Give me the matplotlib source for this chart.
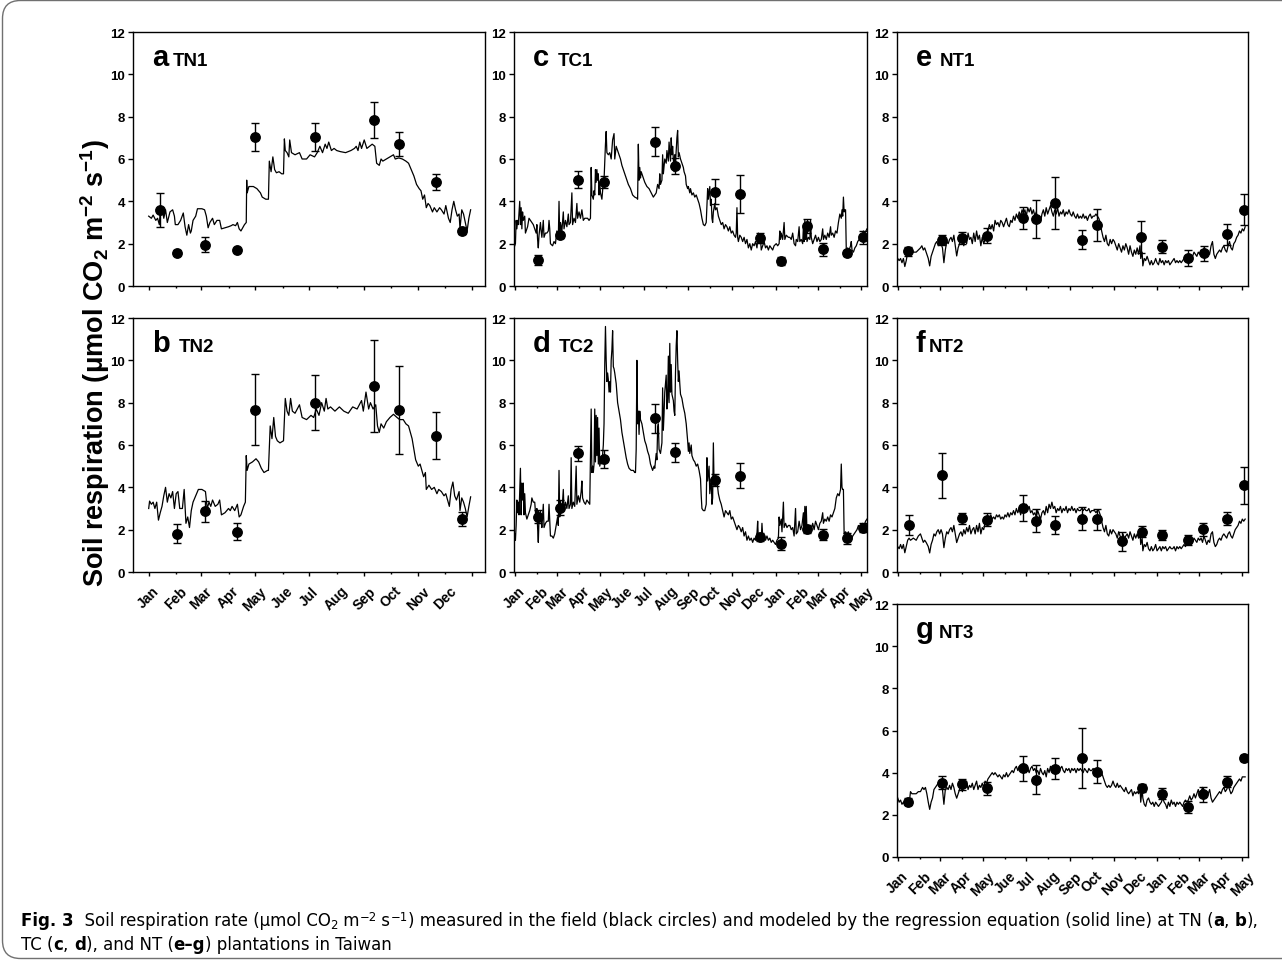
import matplotlib
matplotlib.use("Agg")
import matplotlib.pyplot as plt
from matplotlib.patches import FancyBboxPatch
from matplotlib.transforms import IdentityTransform, ScaledTranslation

plt.rcParams['font.family'] = ['Liberation Sans', 'DejaVu Sans']
plt.rcParams['mathtext.fontset'] = 'custom'
plt.rcParams['mathtext.rm'] = 'Liberation Sans'
plt.rcParams['mathtext.bf'] = 'Liberation Sans:bold'
plt.rcParams['mathtext.sf'] = 'Liberation Sans:bold'

# month ticks (days since Jan 1)
months_1yr = ['Jan', 'Feb', 'Mar', 'Apr', 'May', 'Jue', 'Jul', 'Aug', 'Sep', 'Oct', 'Nov', 'Dec', '']
month_days_1yr = [0, 31, 59, 90, 120, 151, 181, 212, 243, 273, 304, 334, 365]
months_17 = ['Jan', 'Feb', 'Mar', 'Apr', 'May', 'Jue', 'Jul', 'Aug', 'Sep', 'Oct', 'Nov', 'Dec',
             'Jan', 'Feb', 'Mar', 'Apr', 'May']
month_days_17 = [0, 31, 59, 90, 120, 151, 181, 212, 243, 273, 304, 334, 365, 396, 424, 455, 485]

# ---------------- measured (field) ----------------
tn1_days = [13, 32, 64, 100, 120, 188, 254, 282, 324, 353]
tn1_mean = [3.6, 1.58, 1.96, 1.69, 7.04, 7.04, 7.83, 6.71, 4.91, 2.59]
tn1_err = [0.8, 0.12, 0.35, 0.08, 0.68, 0.68, 0.85, 0.58, 0.37, 0.12]

tn2_days = [32, 64, 100, 120, 188, 254, 282, 324, 353]
tn2_mean = [1.81, 2.87, 1.91, 7.67, 8.0, 8.79, 7.67, 6.44, 2.49]
tn2_err = [0.46, 0.5, 0.4, 1.67, 1.3, 2.17, 2.08, 1.1, 0.34]

tc_days = [32, 63, 89, 125, 197, 224, 280, 315, 343, 373, 409, 431, 465, 488]
tc1_mean = [1.23, 2.41, 5.03, 4.91, 6.81, 5.67, 4.46, 4.35, 2.26, 1.19, 2.85, 1.74, 1.55, 2.3]
tc1_err = [0.25, 0.15, 0.4, 0.3, 0.68, 0.4, 0.6, 0.9, 0.25, 0.2, 0.33, 0.3, 0.15, 0.3]
tc2_mean = [2.62, 3.03, 5.61, 5.33, 7.26, 5.65, 4.34, 4.54, 1.66, 1.34, 2.02, 1.77, 1.59, 2.1]
tc2_err = [0.3, 0.35, 0.35, 0.43, 0.67, 0.44, 0.3, 0.59, 0.2, 0.3, 0.2, 0.25, 0.25, 0.2]

nt1_days = [15, 62, 90, 125, 176, 195, 222, 259, 280, 343, 372, 409, 431, 464, 487]
nt1_mean = [1.63, 2.18, 2.25, 2.37, 3.21, 3.15, 3.91, 2.18, 2.88, 2.3, 1.85, 1.33, 1.55, 2.44, 3.61]
nt1_err = [0.2, 0.25, 0.28, 0.35, 0.5, 0.9, 1.23, 0.45, 0.75, 0.75, 0.3, 0.37, 0.35, 0.5, 0.75]

nt2_days = [16, 63, 90, 125, 176, 195, 222, 259, 280, 316, 344, 372, 409, 430, 464, 487]
nt2_mean = [2.22, 4.57, 2.54, 2.48, 3.01, 2.43, 2.22, 2.52, 2.49, 1.45, 1.91, 1.75, 1.51, 2.02, 2.52, 4.1]
nt2_err = [0.45, 1.06, 0.25, 0.3, 0.62, 0.55, 0.43, 0.53, 0.5, 0.45, 0.25, 0.25, 0.25, 0.3, 0.3, 0.87]

nt3_days = [15, 63, 90, 125, 176, 195, 222, 259, 280, 344, 372, 409, 430, 464, 487]
nt3_mean = [2.63, 3.53, 3.45, 3.25, 4.2, 3.67, 4.18, 4.69, 4.04, 3.26, 3.0, 2.37, 2.98, 3.58, 4.69]
nt3_err = [0.15, 0.3, 0.25, 0.3, 0.6, 0.7, 0.5, 1.43, 0.55, 0.2, 0.25, 0.3, 0.35, 0.25, 0.15]

# ---------------- modeled (regression) ----------------
tn1_model = [(0, 3.3), (3, 3.2), (5, 3.35), (8, 3.1), (10, 3.2), (12, 2.9), (13, 3.5), (15, 3.7), (17, 3.2),
             (19, 3.6), (21, 3.0), (24, 3.5), (27, 3.6), (29, 3.3), (30, 2.9), (33, 2.9), (36, 3.1), (39, 3.45),
             (41, 2.8), (43, 2.4), (45, 2.9), (47, 2.5), (48, 2.6), (50, 3.1), (53, 3.3), (55, 3.65), (60, 3.65),
             (63, 3.6), (65, 3.3), (67, 2.75), (69, 3.0), (72, 3.2), (74, 2.9), (77, 3.1), (80, 3.1), (82, 2.7),
             (86, 2.75), (90, 2.8), (93, 2.85), (95, 2.9), (98, 2.85), (100, 3.0), (102, 2.7), (104, 2.6),
             (108, 2.9), (110, 3.0), (110.5, 5.0), (111, 4.4), (113, 4.7), (118, 4.7), (122, 4.6), (126, 4.4),
             (128, 4.2), (132, 4.1), (135, 4.1), (136, 5.9), (138, 5.4), (140, 6.1), (142, 5.5), (144, 5.35),
             (147, 5.4), (150, 5.3), (152, 5.3), (153, 6.95), (154, 6.4), (156, 6.3), (158, 6.1), (159, 6.9),
             (161, 6.3), (165, 6.2), (170, 6.3), (173, 6.0), (178, 6.0), (182, 6.2), (187, 6.1), (190, 6.3),
             (193, 6.6), (196, 6.3), (199, 6.7), (201, 6.5), (203, 6.8), (206, 6.4), (209, 6.5), (212, 6.4),
             (216, 6.35), (222, 6.3), (228, 6.4), (232, 6.5), (234, 6.6), (236, 6.4), (238, 6.8), (240, 6.5),
             (243, 6.9), (246, 6.5), (249, 6.6), (252, 6.7), (255, 6.6), (257, 5.8), (260, 5.7), (262, 6.0),
             (264, 5.9), (268, 6.0), (272, 6.1), (276, 6.2), (278, 6.0), (282, 6.05), (286, 6.0), (290, 5.9),
             (293, 5.8), (296, 5.5), (299, 5.2), (302, 4.8), (305, 4.6), (307, 4.5), (309, 4.1), (311, 4.3),
             (313, 3.7), (315, 3.9), (317, 3.8), (320, 3.5), (322, 3.7), (325, 3.5), (328, 3.7), (330, 3.6),
             (333, 3.4), (335, 3.8), (338, 3.2), (340, 3.0), (342, 3.6), (344, 4.0), (346, 3.6), (348, 3.3),
             (350, 3.4), (351, 2.7), (353, 3.6), (355, 3.4), (357, 3.0), (359, 2.6), (361, 3.2), (363, 3.6)]

tn2_model = [(0, 3.0), (1, 3.35), (3, 3.2), (5, 3.3), (7, 3.0), (9, 3.3), (11, 2.45), (13, 2.8), (15, 3.1),
             (17, 3.6), (19, 4.0), (21, 3.3), (23, 3.7), (25, 3.5), (27, 3.8), (29, 3.0), (31, 3.7), (33, 3.8),
             (35, 3.0), (38, 3.0), (40, 3.9), (42, 2.3), (44, 2.6), (46, 2.1), (48, 2.9), (50, 3.3), (53, 3.6),
             (56, 3.9), (60, 3.9), (64, 3.8), (66, 3.0), (68, 3.3), (70, 3.1), (72, 3.4), (75, 3.1), (78, 3.2),
             (80, 3.4), (82, 2.7), (86, 2.8), (90, 3.0), (92, 2.9), (94, 3.1), (97, 2.9), (100, 3.2), (102, 2.6),
             (104, 2.7), (107, 3.1), (109, 3.3), (110, 5.5), (111, 4.8), (113, 5.1), (117, 5.2), (121, 5.35),
             (124, 5.2), (127, 4.9), (130, 4.7), (134, 4.8), (135, 4.8), (137, 6.9), (139, 6.3), (141, 7.3),
             (143, 6.4), (145, 6.2), (148, 6.1), (152, 6.2), (154, 8.2), (156, 7.6), (158, 7.4), (160, 8.2),
             (162, 7.6), (165, 7.5), (170, 7.9), (173, 7.3), (178, 7.2), (183, 7.4), (186, 7.3), (189, 7.7),
             (192, 7.4), (195, 8.0), (198, 7.6), (200, 8.2), (202, 7.7), (205, 7.8), (210, 7.6), (215, 7.8),
             (220, 7.6), (225, 7.5), (230, 7.8), (235, 7.7), (240, 8.1), (242, 7.6), (245, 8.5), (248, 7.7),
             (250, 8.0), (253, 7.7), (256, 7.9), (258, 6.9), (260, 6.6), (262, 7.0), (265, 6.8), (268, 7.1),
             (272, 7.3), (276, 7.45), (280, 7.3), (283, 7.2), (287, 7.2), (290, 7.0), (293, 6.9), (295, 6.6),
             (297, 6.3), (299, 5.8), (301, 5.3), (304, 5.0), (306, 5.1), (308, 4.8), (310, 4.5), (312, 4.7),
             (313, 3.9), (316, 4.1), (319, 3.9), (322, 4.0), (325, 3.7), (327, 3.9), (330, 3.8), (333, 3.6),
             (335, 3.7), (337, 3.4), (339, 3.1), (341, 3.9), (343, 4.25), (345, 3.6), (347, 3.4), (350, 3.8),
             (351, 2.9), (353, 3.5), (355, 3.3), (357, 3.0), (359, 2.6), (361, 3.1), (363, 3.55)]

tc1_model = [(0, 1.9), (1, 2.0), (2, 3.1), (3, 2.7), (4, 3.1), (5, 2.9), (7, 4.0), (8, 2.9), (9, 3.7), (10, 2.7),
             (11, 3.5), (12, 3.1), (14, 3.3), (15, 2.5), (16, 2.6), (18, 2.8), (20, 3.2), (22, 3.1), (24, 3.0),
             (26, 2.9), (28, 2.7), (30, 2.5), (31, 2.9), (32, 2.2), (33, 1.8), (34, 2.4), (36, 3.0), (37, 2.6),
             (38, 2.3), (40, 3.1), (41, 2.3), (43, 2.5), (45, 2.5), (47, 2.6), (48, 3.1), (49, 2.7), (50, 2.0),
             (53, 1.9), (55, 2.1), (57, 2.0), (59, 2.6), (61, 2.2), (62, 4.0), (63, 2.3), (64, 3.0), (66, 2.6),
             (68, 3.5), (69, 2.7), (71, 3.1), (73, 2.8), (75, 3.4), (76, 2.9), (78, 3.0), (80, 4.4), (81, 2.9),
             (83, 3.2), (85, 3.0), (87, 3.9), (88, 3.2), (90, 3.5), (92, 3.2), (94, 3.6), (96, 3.1), (98, 3.2),
             (100, 3.2), (102, 3.2), (104, 3.1), (106, 3.2), (107, 5.6), (108, 4.3), (110, 4.1), (111, 4.5),
             (112, 4.3), (113, 5.5), (114, 4.9), (115, 5.5), (116, 5.0), (117, 5.3), (118, 4.3), (119, 4.9),
             (120, 4.4), (122, 4.1), (123, 4.5), (124, 5.0), (125, 5.0), (127, 6.7), (128, 7.3), (129, 6.3),
             (131, 6.2), (133, 6.3), (135, 6.0), (137, 6.9), (139, 7.2), (140, 6.0), (142, 6.6), (144, 6.4),
             (146, 6.2), (148, 6.0), (150, 5.7), (153, 5.4), (156, 5.1), (159, 4.8), (162, 4.6), (165, 4.3),
             (168, 4.2), (171, 4.15), (172, 4.1), (173, 6.7), (174, 5.0), (175, 5.6), (176, 5.1), (177, 5.4),
             (179, 5.2), (182, 4.9), (185, 4.7), (188, 4.6), (191, 4.4), (194, 4.2), (196, 4.3), (198, 4.4),
             (200, 4.8), (202, 4.6), (203, 5.3), (204, 4.8), (206, 5.0), (207, 6.2), (208, 5.3), (210, 6.0),
             (212, 5.8), (213, 6.4), (215, 5.9), (216, 6.8), (218, 5.9), (219, 7.0), (220, 6.2), (221, 6.6),
             (223, 5.4), (224, 6.2), (225, 5.8), (227, 7.0), (228, 7.35), (229, 6.1), (230, 6.3), (232, 6.0),
             (234, 5.8), (236, 5.6), (237, 5.4), (239, 5.2), (240, 4.8), (242, 4.6), (243, 4.7), (245, 4.4),
             (246, 4.6), (248, 4.3), (250, 4.4), (252, 4.2), (254, 4.3), (256, 4.1), (258, 3.9), (260, 3.6),
             (262, 3.2), (264, 2.9), (266, 2.85), (268, 3.0), (270, 4.6), (271, 4.1), (273, 4.7), (274, 3.8),
             (275, 4.1), (276, 3.2), (277, 3.0), (278, 3.5), (280, 3.9), (281, 3.6), (283, 3.7), (285, 3.3),
             (287, 3.1), (289, 2.9), (291, 3.0), (293, 2.7), (295, 2.9), (297, 2.8), (299, 2.6), (301, 2.8),
             (303, 2.5), (305, 2.6), (307, 2.4), (309, 2.3), (310, 2.5), (311, 3.7), (312, 2.3), (313, 2.1),
             (315, 2.4), (317, 2.3), (319, 2.1), (321, 2.3), (323, 2.0), (325, 2.2), (327, 1.8), (329, 2.0),
             (331, 1.7), (333, 2.0), (335, 1.9), (337, 2.1), (339, 1.8), (341, 2.5), (342, 2.0), (344, 2.2),
             (345, 1.7), (347, 1.9), (349, 2.1), (351, 1.8), (353, 1.9), (355, 1.7), (357, 1.9), (359, 1.8),
             (361, 1.7), (363, 1.9), (366, 2.0), (368, 1.9), (370, 2.0), (371, 2.6), (372, 2.2), (373, 2.5),
             (375, 2.2), (377, 3.0), (378, 2.2), (380, 2.4), (383, 2.3), (385, 2.3), (387, 2.2), (389, 2.5),
             (391, 2.0), (393, 1.9), (394, 2.2), (396, 2.1), (398, 2.8), (399, 2.1), (401, 2.2), (403, 2.0),
             (404, 2.8), (405, 2.1), (406, 3.1), (407, 2.2), (408, 2.8), (409, 2.1), (411, 2.3), (413, 2.2),
             (414, 3.1), (415, 2.3), (417, 2.0), (419, 2.2), (421, 2.4), (423, 2.1), (425, 2.3), (427, 2.1),
             (429, 2.2), (431, 2.7), (432, 2.2), (434, 2.4), (436, 2.2), (438, 2.5), (440, 2.3), (442, 2.8),
             (443, 2.4), (445, 2.5), (447, 2.3), (449, 2.6), (451, 2.5), (453, 3.0), (455, 3.4), (457, 3.2),
             (458, 3.6), (459, 3.3), (460, 4.2), (461, 3.5), (462, 3.6), (463, 3.6), (464, 1.7), (466, 1.8),
             (468, 1.7), (470, 1.9), (471, 2.1), (472, 1.7), (474, 1.6), (476, 1.8), (478, 1.9), (480, 2.1),
             (482, 2.2), (484, 2.4), (486, 2.3), (488, 2.6), (490, 2.5), (493, 2.7)]

tc2_model = [(0, 1.8), (1, 1.5), (2, 2.2), (3, 3.4), (4, 2.8), (5, 3.3), (6, 2.7), (8, 4.9), (9, 2.7), (10, 4.2),
             (11, 3.4), (12, 4.2), (13, 2.7), (14, 3.7), (15, 2.8), (17, 2.5), (19, 2.7), (21, 2.9), (23, 3.2),
             (24, 3.5), (26, 3.3), (28, 3.3), (30, 2.4), (31, 3.0), (32, 2.1), (33, 1.4), (34, 2.5), (36, 2.9),
             (37, 2.4), (38, 2.1), (40, 3.2), (41, 2.1), (43, 2.3), (45, 2.4), (47, 2.4), (48, 3.2), (49, 2.5),
             (50, 1.7), (52, 1.7), (54, 1.6), (56, 1.8), (58, 2.2), (60, 2.6), (61, 2.2), (62, 4.8), (63, 2.6),
             (64, 3.2), (66, 2.8), (68, 3.9), (69, 2.9), (71, 3.3), (73, 3.0), (75, 3.6), (76, 3.0), (78, 3.2),
             (79, 5.4), (80, 3.0), (82, 3.3), (84, 3.1), (86, 5.0), (87, 3.2), (89, 3.6), (91, 3.3), (93, 3.8),
             (94, 4.3), (95, 3.5), (97, 3.3), (99, 3.2), (101, 3.4), (103, 3.3), (105, 3.2), (107, 7.7),
             (108, 4.7), (109, 5.0), (110, 4.7), (111, 5.1), (112, 7.7), (113, 5.2), (114, 7.4), (115, 5.5),
             (116, 7.3), (117, 5.1), (118, 6.8), (119, 5.0), (121, 5.3), (122, 5.1), (124, 6.0), (125, 7.0),
             (126, 9.8), (127, 11.6), (128, 10.0), (129, 9.0), (130, 9.4), (131, 9.1), (132, 8.5), (133, 9.0),
             (134, 8.5), (135, 10.0), (136, 10.5), (137, 11.4), (138, 9.7), (139, 9.6), (140, 9.4), (142, 8.9),
             (144, 8.0), (146, 7.6), (148, 7.2), (150, 6.6), (152, 6.2), (154, 5.8), (156, 5.4), (158, 5.1),
             (160, 4.9), (163, 4.8), (166, 4.8), (168, 4.7), (169, 4.7), (170, 5.8), (171, 10.0), (172, 7.0),
             (173, 7.6), (174, 6.5), (175, 7.6), (176, 7.2), (178, 7.0), (180, 6.6), (182, 6.2), (184, 6.0),
             (186, 5.7), (188, 5.5), (190, 5.1), (192, 4.9), (193, 4.8), (195, 5.0), (196, 4.9), (198, 5.6),
             (199, 5.3), (200, 6.8), (201, 7.0), (202, 5.8), (204, 5.6), (206, 6.1), (207, 8.7), (208, 6.7),
             (209, 7.5), (210, 8.5), (212, 9.3), (213, 7.7), (214, 8.2), (215, 10.2), (216, 8.0), (217, 10.8),
             (218, 8.5), (219, 9.8), (220, 8.4), (222, 8.1), (223, 7.6), (224, 7.4), (225, 9.4), (226, 10.7),
             (227, 11.4), (228, 10.0), (229, 9.0), (230, 9.5), (231, 8.9), (232, 8.4), (234, 8.2), (236, 7.8),
             (238, 7.5), (240, 7.0), (242, 6.2), (243, 5.7), (244, 6.1), (245, 5.6), (247, 6.0), (248, 5.5),
             (250, 5.3), (252, 5.2), (254, 5.0), (256, 5.1), (258, 4.8), (260, 4.4), (261, 3.6), (262, 3.0),
             (264, 2.9), (266, 2.9), (268, 3.2), (269, 5.4), (270, 4.3), (272, 5.0), (273, 3.7), (275, 4.4),
             (276, 3.2), (277, 3.5), (278, 6.1), (279, 4.1), (281, 4.5), (283, 4.3), (285, 3.7), (287, 3.4),
             (289, 3.2), (291, 2.9), (293, 2.6), (295, 2.9), (297, 2.8), (299, 2.7), (301, 2.9), (303, 2.5),
             (305, 2.6), (307, 2.4), (309, 2.2), (311, 2.0), (313, 2.2), (315, 2.1), (317, 1.9), (319, 2.1),
             (321, 1.7), (323, 1.9), (325, 1.5), (327, 1.7), (329, 1.5), (331, 1.6), (333, 1.4), (335, 1.6),
             (337, 1.5), (339, 1.8), (340, 2.4), (341, 1.5), (343, 1.8), (345, 1.5), (346, 2.3), (347, 1.7),
             (349, 1.6), (351, 1.5), (353, 1.7), (355, 1.5), (357, 1.6), (359, 1.4), (361, 1.5), (363, 1.4),
             (365, 1.3), (367, 1.5), (369, 1.6), (370, 2.6), (371, 2.2), (373, 2.5), (374, 1.9), (376, 3.3),
             (377, 2.1), (379, 2.3), (381, 2.1), (383, 2.2), (385, 2.2), (387, 2.0), (389, 2.1), (391, 1.7),
             (393, 3.0), (394, 1.8), (396, 1.9), (398, 2.4), (400, 2.0), (402, 2.2), (404, 2.8), (405, 2.0),
             (406, 3.1), (407, 2.2), (408, 3.1), (409, 1.9), (411, 2.2), (413, 2.1), (415, 2.0), (417, 2.3),
             (419, 2.0), (421, 2.4), (423, 2.2), (425, 2.0), (427, 2.3), (429, 2.4), (431, 2.8), (432, 2.3),
             (434, 2.5), (436, 2.4), (438, 2.6), (440, 2.4), (442, 2.7), (444, 2.6), (446, 2.8), (448, 3.0),
             (450, 3.5), (452, 3.7), (454, 3.6), (456, 3.9), (457, 5.1), (458, 4.0), (459, 3.9), (460, 3.9),
             (461, 1.8), (463, 1.9), (465, 1.8), (467, 1.9), (469, 1.6), (471, 1.5), (473, 1.7), (475, 1.8),
             (477, 1.9), (479, 2.0), (481, 2.2), (483, 2.1), (485, 2.2), (487, 2.3), (489, 2.2), (491, 2.4),
             (493, 2.5)]

nt1_model = [(0, 1.3), (2, 1.2), (4, 1.3), (6, 1.1), (8, 1.3), (10, 0.92), (12, 1.2), (14, 1.6), (16, 1.7),
             (18, 1.6), (22, 1.6), (26, 1.6), (29, 1.7), (32, 1.8), (34, 1.9), (36, 1.7), (38, 1.8), (40, 1.6),
             (43, 1.3), (45, 0.95), (47, 1.4), (49, 1.6), (51, 1.8), (53, 2.0), (55, 2.1), (57, 1.9), (59, 2.2),
             (61, 2.0), (63, 1.8), (65, 1.1), (67, 1.7), (69, 2.1), (71, 2.0), (73, 2.2), (75, 2.3), (77, 2.1),
             (79, 2.4), (81, 1.9), (83, 1.42), (85, 1.8), (87, 2.0), (89, 2.1), (91, 2.3), (93, 1.9), (95, 2.4),
             (97, 2.0), (99, 2.5), (101, 2.2), (103, 2.3), (105, 2.0), (107, 2.5), (109, 2.1), (111, 2.6),
             (113, 2.2), (115, 2.4), (117, 1.9), (119, 2.3), (121, 2.0), (123, 2.2), (125, 2.4), (127, 2.6),
             (129, 2.9), (131, 2.7), (133, 2.9), (135, 2.6), (137, 3.1), (139, 2.9), (141, 3.0), (143, 2.8),
             (145, 3.1), (147, 3.0), (149, 2.8), (151, 3.0), (153, 3.2), (155, 2.9), (157, 2.8), (159, 3.1),
             (161, 3.0), (163, 3.3), (165, 3.1), (167, 3.4), (169, 3.2), (171, 3.5), (173, 3.3), (175, 3.6),
             (177, 3.4), (179, 3.6), (181, 3.3), (183, 3.7), (185, 3.5), (187, 3.7), (189, 3.4), (191, 3.6),
             (193, 3.3), (195, 3.5), (197, 3.1), (199, 3.3), (201, 3.0), (203, 3.4), (205, 3.6), (207, 3.3),
             (209, 3.7), (211, 3.4), (213, 3.6), (215, 3.8), (217, 3.5), (219, 3.3), (221, 3.6), (223, 3.4),
             (225, 3.7), (227, 3.3), (229, 3.5), (231, 3.4), (233, 3.6), (235, 3.3), (237, 3.5), (239, 3.4),
             (241, 3.6), (243, 3.4), (245, 3.3), (247, 3.5), (249, 3.3), (251, 3.2), (253, 3.4), (255, 3.2),
             (257, 3.3), (259, 3.2), (261, 3.4), (263, 3.2), (265, 3.3), (267, 3.1), (269, 3.3), (271, 3.4),
             (273, 3.2), (275, 3.3), (277, 3.3), (279, 3.4), (281, 3.3), (283, 3.2), (285, 3.0), (287, 2.6),
             (289, 2.3), (291, 2.1), (293, 2.4), (295, 2.0), (297, 1.9), (299, 2.2), (301, 2.0), (303, 2.2),
             (305, 2.1), (307, 1.9), (309, 1.7), (311, 2.0), (313, 1.8), (315, 1.6), (317, 1.9), (319, 1.7),
             (321, 2.0), (323, 1.8), (325, 1.5), (327, 1.9), (329, 1.6), (331, 1.4), (333, 1.7), (335, 1.5),
             (337, 1.8), (339, 1.5), (341, 1.9), (342, 1.3), (344, 1.6), (345, 0.95), (347, 1.3), (349, 1.2),
             (351, 1.4), (353, 1.2), (355, 1.0), (357, 1.2), (359, 1.0), (361, 1.1), (363, 1.3), (365, 1.1),
             (367, 1.0), (369, 1.3), (371, 1.1), (373, 1.2), (375, 1.0), (377, 1.2), (379, 1.1), (381, 1.2),
             (383, 1.0), (385, 1.1), (387, 1.2), (389, 1.3), (391, 1.1), (393, 1.2), (395, 1.1), (397, 1.2),
             (399, 1.1), (401, 1.2), (403, 1.3), (405, 1.2), (407, 1.4), (409, 1.3), (411, 1.5), (413, 1.3),
             (415, 1.4), (417, 1.6), (419, 1.5), (421, 1.4), (423, 1.6), (425, 1.5), (427, 1.7), (429, 1.5),
             (431, 1.8), (433, 1.5), (435, 1.4), (437, 1.6), (439, 1.5), (441, 1.9), (443, 2.1), (445, 1.5),
             (447, 1.3), (449, 1.5), (451, 1.6), (453, 1.7), (455, 1.6), (457, 1.8), (459, 1.9), (461, 1.7),
             (463, 1.6), (465, 1.9), (467, 2.1), (469, 1.8), (471, 1.7), (473, 2.0), (475, 2.1), (477, 2.3),
             (479, 2.4), (481, 2.6), (483, 2.5), (485, 2.7), (487, 2.6), (489, 2.8)]

nt2_model = [(0, 1.2), (2, 1.1), (4, 1.3), (6, 1.1), (8, 1.3), (10, 0.91), (12, 1.2), (14, 1.5), (16, 1.6),
             (18, 1.5), (22, 1.6), (26, 1.5), (29, 1.7), (32, 1.8), (34, 1.6), (36, 1.4), (38, 1.5), (40, 1.4),
             (43, 1.2), (45, 0.9), (47, 1.3), (49, 1.5), (51, 1.8), (53, 1.7), (55, 1.9), (57, 2.0), (59, 1.8),
             (61, 2.0), (63, 1.8), (65, 1.15), (67, 1.6), (69, 1.9), (71, 1.8), (73, 2.0), (75, 2.1), (77, 1.9),
             (79, 2.2), (81, 1.8), (83, 1.39), (85, 1.6), (87, 1.8), (89, 1.9), (91, 1.7), (93, 2.0), (95, 1.8),
             (97, 2.1), (99, 1.9), (101, 2.2), (103, 1.8), (105, 2.0), (107, 2.1), (109, 1.8), (111, 2.2),
             (113, 1.9), (115, 2.3), (117, 1.8), (119, 2.1), (121, 2.0), (123, 2.3), (125, 2.5), (127, 2.6),
             (129, 2.4), (131, 2.7), (133, 2.5), (135, 2.6), (137, 2.5), (139, 2.7), (141, 2.6), (143, 2.7),
             (145, 2.5), (147, 2.6), (149, 2.5), (151, 2.7), (153, 2.6), (155, 2.8), (157, 2.6), (159, 2.8),
             (161, 2.7), (163, 2.9), (165, 2.7), (167, 3.0), (169, 2.8), (171, 3.0), (173, 2.7), (175, 3.0),
             (177, 3.2), (179, 3.1), (181, 3.2), (183, 3.0), (185, 3.1), (187, 2.8), (189, 2.9), (191, 2.7),
             (193, 2.8), (195, 2.6), (197, 2.9), (199, 2.7), (201, 2.5), (203, 2.8), (205, 2.9), (207, 2.7),
             (209, 3.1), (211, 2.8), (213, 3.2), (215, 3.0), (217, 3.3), (219, 3.0), (221, 3.1), (223, 2.8),
             (225, 3.0), (227, 2.9), (229, 3.1), (231, 2.8), (233, 3.0), (235, 2.9), (237, 3.1), (239, 2.8),
             (241, 3.0), (243, 2.9), (245, 3.1), (247, 2.9), (249, 3.0), (251, 2.8), (253, 3.0), (255, 2.9),
             (257, 2.9), (259, 3.0), (261, 2.9), (263, 3.0), (265, 2.9), (267, 2.9), (269, 3.0), (271, 2.8),
             (273, 2.9), (275, 2.9), (277, 2.9), (279, 2.8), (281, 2.9), (283, 2.9), (285, 2.7), (287, 2.4),
             (289, 2.1), (291, 1.9), (293, 2.2), (295, 1.8), (297, 1.7), (299, 2.0), (301, 1.8), (303, 2.0),
             (305, 1.9), (307, 1.8), (309, 1.6), (311, 1.9), (313, 1.7), (315, 1.5), (317, 1.8), (319, 1.6),
             (321, 1.7), (323, 1.8), (325, 1.6), (327, 1.9), (329, 1.7), (331, 1.5), (333, 1.8), (335, 1.6),
             (337, 1.8), (339, 1.6), (341, 1.9), (342, 1.3), (344, 1.6), (345, 1.0), (347, 1.3), (349, 1.2),
             (351, 1.4), (353, 1.1), (355, 1.0), (357, 1.2), (359, 1.0), (361, 1.1), (363, 1.3), (365, 1.0),
             (367, 1.1), (369, 1.2), (371, 1.0), (373, 1.2), (375, 1.1), (377, 1.2), (379, 1.0), (381, 1.1),
             (383, 1.2), (385, 1.1), (387, 1.1), (389, 1.2), (391, 1.0), (393, 1.2), (395, 1.1), (397, 1.2),
             (399, 1.1), (401, 1.2), (403, 1.3), (405, 1.2), (407, 1.4), (409, 1.3), (411, 1.4), (413, 1.3),
             (415, 1.4), (417, 1.6), (419, 1.5), (421, 1.4), (423, 1.6), (425, 1.5), (427, 1.6), (429, 1.4),
             (431, 1.7), (433, 1.5), (435, 1.3), (437, 1.5), (439, 1.4), (441, 1.8), (443, 1.9), (445, 1.4),
             (447, 1.2), (449, 1.3), (451, 1.5), (453, 1.6), (455, 1.5), (457, 1.7), (459, 1.8), (461, 1.7),
             (463, 1.6), (465, 1.8), (467, 1.9), (469, 1.7), (471, 1.6), (473, 1.8), (475, 2.0), (477, 2.1),
             (479, 2.2), (481, 2.4), (483, 2.3), (485, 2.5), (487, 2.4), (489, 2.5)]

nt3_model = [(0, 2.8), (2, 2.6), (4, 2.7), (6, 2.5), (8, 2.6), (10, 2.5), (12, 2.4), (14, 2.6), (16, 2.5),
             (18, 3.1), (20, 3.0), (23, 3.0), (26, 3.0), (29, 3.1), (32, 3.1), (35, 3.3), (37, 3.2), (39, 3.3),
             (41, 3.0), (43, 2.6), (45, 2.26), (47, 2.6), (49, 2.8), (51, 3.2), (53, 3.3), (55, 3.4), (57, 3.5),
             (59, 3.3), (61, 3.4), (63, 3.2), (65, 2.5), (67, 3.2), (69, 3.3), (71, 3.2), (73, 3.4), (75, 3.2),
             (77, 3.5), (79, 3.3), (81, 3.0), (83, 2.79), (85, 3.0), (87, 3.2), (89, 3.4), (91, 3.1), (93, 3.5),
             (95, 3.3), (97, 3.6), (99, 3.2), (101, 3.4), (103, 3.3), (105, 3.5), (107, 3.2), (109, 3.4),
             (111, 3.6), (113, 3.2), (115, 3.4), (117, 3.3), (119, 3.5), (121, 3.3), (123, 3.6), (125, 3.5),
             (127, 3.7), (129, 3.8), (131, 3.9), (133, 4.0), (135, 3.9), (137, 4.0), (139, 3.9), (141, 3.8),
             (143, 3.9), (145, 3.8), (147, 3.7), (149, 3.9), (151, 3.8), (153, 4.0), (155, 3.8), (157, 3.9),
             (159, 4.0), (161, 4.1), (163, 4.0), (165, 4.2), (167, 4.3), (169, 4.1), (171, 4.3), (173, 4.2),
             (175, 4.4), (177, 4.2), (179, 4.3), (181, 4.0), (183, 4.2), (185, 4.0), (187, 4.2), (189, 4.3),
             (191, 4.1), (193, 4.2), (195, 4.0), (197, 4.1), (199, 3.9), (201, 4.2), (203, 4.0), (205, 3.9),
             (207, 4.1), (209, 3.8), (211, 4.2), (213, 4.0), (215, 4.3), (217, 4.1), (219, 4.3), (221, 4.2),
             (223, 4.0), (225, 4.3), (227, 4.1), (229, 4.2), (231, 4.3), (233, 4.1), (235, 4.0), (237, 4.2),
             (239, 4.1), (241, 4.2), (243, 4.0), (245, 4.2), (247, 4.1), (249, 4.2), (251, 4.0), (253, 4.2),
             (255, 4.1), (257, 4.2), (259, 4.1), (261, 4.0), (263, 4.2), (265, 4.1), (267, 4.0), (269, 4.2),
             (271, 4.1), (273, 4.1), (275, 4.2), (277, 4.1), (279, 4.0), (281, 4.2), (283, 4.2), (285, 4.1),
             (287, 4.0), (289, 3.8), (291, 3.6), (293, 3.4), (295, 3.3), (297, 3.4), (299, 3.3), (301, 3.4),
             (303, 3.6), (305, 3.4), (307, 3.3), (309, 3.5), (311, 3.3), (313, 3.4), (315, 3.3), (317, 3.2),
             (319, 3.1), (321, 3.3), (323, 3.1), (325, 3.0), (327, 3.1), (329, 3.2), (331, 2.9), (333, 3.1),
             (335, 3.0), (337, 3.1), (339, 3.0), (341, 3.3), (342, 2.6), (344, 3.2), (345, 2.8), (347, 2.5),
             (349, 2.4), (351, 2.7), (353, 2.8), (355, 2.6), (357, 2.5), (359, 2.6), (361, 2.4), (363, 2.6),
             (365, 2.5), (367, 2.4), (369, 2.5), (371, 2.6), (373, 2.8), (375, 2.6), (377, 2.5), (379, 2.3),
             (381, 2.6), (383, 2.4), (385, 2.7), (387, 2.5), (389, 2.6), (391, 2.4), (393, 2.6), (395, 2.5),
             (397, 2.6), (399, 2.5), (401, 2.4), (403, 2.6), (405, 2.7), (407, 2.6), (409, 2.7), (411, 2.9),
             (413, 2.7), (415, 2.8), (417, 3.0), (419, 2.8), (421, 3.0), (423, 3.2), (425, 2.9), (427, 3.1),
             (429, 3.3), (431, 3.0), (433, 2.8), (435, 2.9), (437, 3.0), (439, 3.2), (441, 2.8), (443, 2.6),
             (445, 2.7), (447, 2.8), (449, 2.9), (451, 3.0), (453, 3.1), (455, 3.0), (457, 3.2), (459, 3.3),
             (461, 3.1), (463, 3.2), (465, 3.4), (467, 3.2), (469, 3.0), (471, 3.1), (473, 3.3), (475, 3.4),
             (477, 3.5), (479, 3.6), (481, 3.7), (483, 3.6), (485, 3.8), (489, 3.8)]

W, H = 1282, 962
fig = plt.figure(figsize=(W / 100, H / 100), dpi=100)

# axes boxes in pixels: (left, right) and (top, bottom)
col_x = [(133, 485), (514, 867), (897, 1248)]
row_y = [(33, 287), (319, 573), (605, 858)]


def px_axes(col, row):
    l, r = col_x[col]
    t, b = row_y[row]
    return fig.add_axes([l / W, 1 - b / H, (r - l) / W, (b - t) / H])


panels = [
    # letter, name, col, row, model, days, mean, err, one-year axis, show month labels, name offset
    ('a', 'TN1', 0, 0, tn1_model, tn1_days, tn1_mean, tn1_err, True, False, 0.114),
    ('b', 'TN2', 0, 1, tn2_model, tn2_days, tn2_mean, tn2_err, True, True, 0.13),
    ('c', 'TC1', 1, 0, tc1_model, tc_days, tc1_mean, tc1_err, False, False, 0.125),
    ('d', 'TC2', 1, 1, tc2_model, tc_days, tc2_mean, tc2_err, False, True, 0.127),
    ('e', 'NT1', 2, 0, nt1_model, nt1_days, nt1_mean, nt1_err, False, False, 0.122),
    ('f', 'NT2', 2, 1, nt2_model, nt2_days, nt2_mean, nt2_err, False, False, 0.091),
    ('g', 'NT3', 2, 2, nt3_model, nt3_days, nt3_mean, nt3_err, False, True, 0.12),
]

lab_shift = ScaledTranslation(-0.04, 0, fig.dpi_scale_trans)

for letter, name, col, row, model, days, mean, err, one_year, show_lab, name_x in panels:
    ax = px_axes(col, row)
    mx = [p[0] for p in model]
    my = [p[1] for p in model]
    ax.plot(mx, my, color='black', lw=0.9, zorder=2)
    ax.errorbar(days, mean, yerr=err, fmt='o', color='black', ms=6.8, capsize=3.2,
                elinewidth=1, capthick=1, zorder=3)

    if one_year:
        ticks, names = month_days_1yr, months_1yr
        ax.set_xlim(-17.7, 379.2)
    else:
        ticks, names = month_days_17, months_17
        ax.set_xlim(-1, 493)
    ax.set_xticks(ticks[0::2])
    ax.set_xticks(ticks[1::2], minor=True)
    if show_lab:
        for minor, lab in ((False, names[0::2]), (True, names[1::2])):
            tl = ax.set_xticklabels(lab, minor=minor, rotation=45, ha='center',
                                    fontsize=10, fontweight='bold')
            for t in tl:
                t.set_transform(t.get_transform() + lab_shift)
    else:
        ax.set_xticklabels([])
        ax.set_xticklabels([], minor=True)

    ax.set_ylim(0, 12)
    ax.set_yticks(range(0, 13, 2))
    ax.set_yticklabels([str(v) for v in range(0, 13, 2)], fontsize=9.5, fontweight='bold')
    ax.tick_params(axis='y', length=3.5, width=1, pad=2, direction='out')
    ax.tick_params(axis='x', which='major', length=3, width=1, pad=5.5, direction='out')
    ax.tick_params(axis='x', which='minor', length=1.6, width=1, pad=6.5, direction='out')
    for sp in ax.spines.values():
        sp.set_linewidth(1.0)

    ax.text(0.053, 0.87, letter, transform=ax.transAxes, fontsize=21, fontweight='bold',
            ha='left', va='baseline')
    ax.text(name_x, 0.87, name, transform=ax.transAxes, fontsize=13.5, fontweight='bold',
            ha='left', va='baseline')

fig.text(95 / W, 1 - 363 / H, r'Soil respiration (μmol CO$_\mathsf{2}$ m$^\mathsf{-2}$ s$^\mathsf{-1}$)',
         rotation=90, ha='center', va='center', fontsize=19.5, fontweight='bold')

# caption, drawn as runs so that bold words and sub/superscripts sit inline
cap_font = ['DejaVu Sans']
cap_size = 12.0
renderer = fig.canvas.get_renderer()


def run_width(s, **kw):
    t1 = fig.text(0, 0, '|' + s + '|', **kw)
    t2 = fig.text(0, 0, '||', **kw)
    w = t1.get_window_extent(renderer).width - t2.get_window_extent(renderer).width
    t1.remove()
    t2.remove()
    return w


def draw_runs(x_px, base_px, runs):
    x = x_px
    for s, weight, kind in runs:
        size = cap_size * 0.7 if kind != 'n' else cap_size
        dy = {'n': 0, 'sub': -3, 'sup': 5}[kind]
        kw = dict(family=cap_font, fontsize=size, fontweight=weight)
        fig.text(x / W, (H - base_px + dy) / H, s, ha='left', va='baseline', **kw)
        x += run_width(s, **kw)


line1 = [('Fig. 3', 'bold', 'n'), ('  Soil respiration rate (μmol CO', 'normal', 'n'), ('2', 'normal', 'sub'),
         (' m', 'normal', 'n'), ('−2', 'normal', 'sup'), (' s', 'normal', 'n'), ('−1', 'normal', 'sup'),
         (') measured in the field (black circles) and modeled by the regression equation (solid line) at TN (',
          'normal', 'n'),
         ('a', 'bold', 'n'), (', ', 'normal', 'n'), ('b', 'bold', 'n'), ('),', 'normal', 'n')]
line2 = [('TC (', 'normal', 'n'), ('c', 'bold', 'n'), (', ', 'normal', 'n'), ('d', 'bold', 'n'),
         ('), and NT (', 'normal', 'n'), ('e–g', 'bold', 'n'), (') plantations in Taiwan', 'normal', 'n')]
draw_runs(21, 926, line1)
draw_runs(21, 950, line2)

# rounded frame around the figure
frame = FancyBboxPatch((2.5, 2.5), W + 40, H - 4, boxstyle='round,pad=0,rounding_size=18',
                       transform=IdentityTransform(), fill=False, ec='#707070', lw=1.0)
fig.add_artist(frame)

fig.savefig('out.png', dpi=100)
